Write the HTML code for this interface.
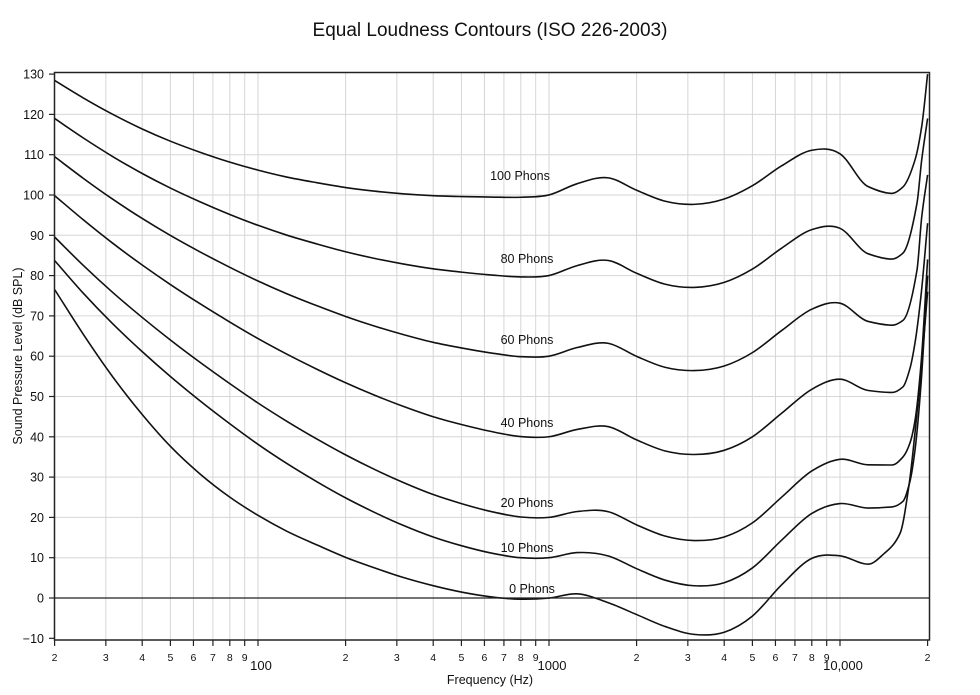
<!DOCTYPE html>
<html><head><meta charset="utf-8"><style>
html,body{margin:0;padding:0;background:#fff;}
svg{display:block;font-family:"Liberation Sans",sans-serif;}
</style></head><body>
<svg id="s" width="980" height="695" viewBox="0 0 980 695" xmlns="http://www.w3.org/2000/svg">
<text x="490" y="36" text-anchor="middle" font-size="19" fill="#111">Equal Loudness Contours (ISO 226-2003)</text>
<g id="grid"></g>
<g id="curves" fill="none" stroke="#111" stroke-width="1.6" stroke-linejoin="round"></g>
<rect x="54.5" y="72.5" width="875" height="567.5" fill="none" stroke="#222" stroke-width="1.5"/>
<line x1="54" y1="598" x2="929" y2="598" stroke="#222" stroke-width="1.2"/>
<g id="labels" font-size="12" fill="#111"></g>
<g font-size="12.5" fill="#111">
<text x="520" y="180" text-anchor="middle">100 Phons</text>
<text x="527" y="263" text-anchor="middle">80 Phons</text>
<text x="527" y="344" text-anchor="middle">60 Phons</text>
<text x="527" y="427" text-anchor="middle">40 Phons</text>
<text x="527" y="507" text-anchor="middle">20 Phons</text>
<text x="527" y="552" text-anchor="middle">10 Phons</text>
<text x="532" y="593" text-anchor="middle">0 Phons</text>
</g>
<text x="490" y="684" text-anchor="middle" font-size="12.5" fill="#111">Frequency (Hz)</text>
<text transform="translate(22,356) rotate(-90)" text-anchor="middle" font-size="12.5" fill="#111">Sound Pressure Level (dB SPL)</text>
</svg>
<script>
const NS="http://www.w3.org/2000/svg";
const X=f=>258+291*(Math.log10(f)-2);
const Y=v=>598-4.03*v;
function el(t,a,p,txt){const e=document.createElementNS(NS,t);for(const k in a)e.setAttribute(k,a[k]);if(txt!==undefined)e.textContent=txt;p.appendChild(e);return e;}
const g=document.getElementById('grid'),L=document.getElementById('labels');
for(let v=-10;v<=130;v+=10){const y=Y(v);
 if(v>-10&&v<130&&v!==0)el('line',{x1:54,x2:929,y1:y,y2:y,stroke:'#d6d6d6','stroke-width':1},g);
 el('line',{x1:49,x2:54,y1:y,y2:y,stroke:'#222','stroke-width':1.2},L);
 el('text',{x:44,y:y+4.5,'text-anchor':'end','font-size':12.5},L,v<0?'\u2212'+(-v):v);}
for(let d=10;d<=10000;d*=10)for(let m=1;m<=9;m++){const f=d*m;if(f<20||f>20000)continue;const x=X(f);
 if(f>20&&f<20000)el('line',{x1:x,x2:x,y1:72,y2:640,stroke:'#d6d6d6','stroke-width':1},g);
 el('line',{x1:x,x2:x,y1:640,y2:646,stroke:'#222','stroke-width':1.2},L);
 if(m===1)el('text',{x:x+3,y:670,'text-anchor':'middle','font-size':13},L,d===100?'100':d===1000?'1000':'10,000');
 else el('text',{x:x,y:661,'text-anchor':'middle','font-size':10.5},L,m);}
const f=[20,25,31.5,40,50,63,80,100,125,160,200,250,315,400,500,630,800,1000,1250,1600,2000,2500,3150,4000,5000,6300,8000,10000,12500];
const af=[0.532,0.506,0.480,0.455,0.432,0.409,0.387,0.367,0.349,0.330,0.315,0.301,0.288,0.276,0.267,0.259,0.253,0.250,0.246,0.244,0.243,0.243,0.243,0.242,0.242,0.245,0.254,0.271,0.301];
const Lu=[-31.6,-27.2,-23.0,-19.1,-15.9,-13.0,-10.3,-8.1,-6.2,-4.5,-3.1,-2.0,-1.1,-0.4,0.0,0.3,0.5,0.0,-2.7,-4.1,-1.0,1.7,2.5,1.2,-2.1,-7.1,-11.2,-10.7,-3.1];
const Tf=[78.5,68.7,59.5,51.1,44.0,37.5,31.5,26.5,22.1,17.9,14.4,11.4,8.6,6.2,4.4,3.0,2.2,2.4,3.5,1.7,-1.3,-4.2,-6.0,-5.4,-1.5,6.0,12.6,13.9,12.3];
const tail={
100:[[892,100.4],[903,102],[915,108.7],[921.7,117],[927.6,130]],
80:[[892,84.1],[903,85.6],[917,98],[921.7,108.7],[927.6,119]],
60:[[892,67.7],[903,68.9],[917,81.4],[921.7,94.5],[927.6,105]],
40:[[892,51],[903,52.4],[910,57],[915,63.3],[921,75],[927.6,93]],
20:[[892,33],[903,35],[910,38.5],[915,44],[921,58],[927.6,84]],
10:[[892,22.6],[903,24],[910,29],[915,36.7],[921,53],[927.6,80]],
0:[[884,11],[900,16],[909,28],[915,41],[921,56],[927.6,76]]};
function slopes(xs,ys,monoFrom){
 const n=xs.length,dl=[],m=new Array(n);
 for(let i=0;i<n-1;i++)dl.push((ys[i+1]-ys[i])/(xs[i+1]-xs[i]));
 m[0]=dl[0];m[n-1]=dl[n-2];
 for(let i=1;i<n-1;i++){
  const h0=xs[i]-xs[i-1],h1=xs[i+1]-xs[i];
  if(i<monoFrom){m[i]=(dl[i-1]*h1+dl[i]*h0)/(h0+h1);}
  else if(dl[i-1]*dl[i]<=0)m[i]=0;
  else{const w1=2*h1+h0,w2=h1+2*h0;m[i]=(w1+w2)/(w1/dl[i-1]+w2/dl[i]);}}
 return m;}
const C=document.getElementById('curves');
[0,10,20,40,60,80,100].forEach(Ln=>{
 const xs=[],ys=[];
 for(let i=0;i<f.length;i++){
  const Af=4.47e-3*(Math.pow(10,0.025*Ln)-1.15)+Math.pow(0.4*Math.pow(10,(Tf[i]+Lu[i])/10-9),af[i]);
  const Lp=10/af[i]*Math.log10(Af)-Lu[i]+94;
  xs.push(X(f[i]));ys.push(Lp);}
 tail[Ln].forEach(p=>{xs.push(p[0]);ys.push(p[1]);});
 const m=slopes(xs,ys,f.length-1);
 let d='M'+xs[0].toFixed(2)+','+Y(ys[0]).toFixed(2);
 for(let i=0;i<xs.length-1;i++){
  const h=xs[i+1]-xs[i];
  const c1x=xs[i]+h/3,c1y=ys[i]+m[i]*h/3,c2x=xs[i+1]-h/3,c2y=ys[i+1]-m[i+1]*h/3;
  d+=' C'+c1x.toFixed(2)+','+Y(c1y).toFixed(2)+' '+c2x.toFixed(2)+','+Y(c2y).toFixed(2)+' '+xs[i+1].toFixed(2)+','+Y(ys[i+1]).toFixed(2);}
 el('path',{d:d},C);
});
</script>
</body></html>
